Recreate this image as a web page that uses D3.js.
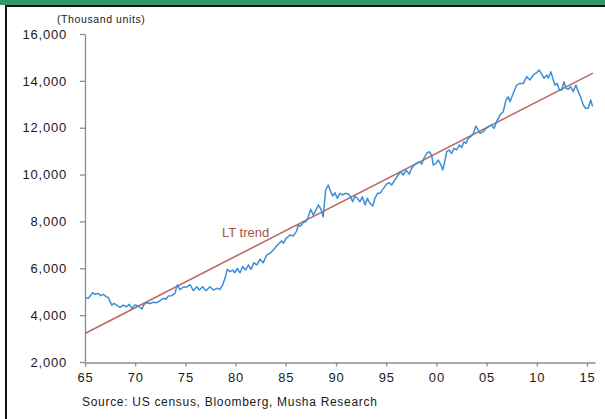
<!DOCTYPE html>
<html>
<head>
<meta charset="utf-8">
<script src="https://cdn.jsdelivr.net/npm/d3@7"></script>
<style>
  html, body { margin: 0; padding: 0; background: #fff; }
  svg { display: block; font-family: Arial, "Liberation Sans", sans-serif; }
</style>
</head>
<body>
<svg id="chart" width="605" height="419"></svg>
<script>
// ---- Data ----
const years = [
  1965.0,1965.33,1965.77,1966.0,1966.32,1966.56,1966.82,1967.09,1967.32,1967.66,1967.89,
  1968.16,1968.49,1968.81,1969.15,1969.41,1969.65,1969.98,1970.31,1970.65,1970.88,
  1971.15,1971.47,1971.8,1972.14,1972.47,1972.8,1973.07,1973.3,1973.64,1973.96,
  1974.19,1974.46,1974.79,1975.13,1975.46,1975.79,1976.13,1976.39,1976.72,1977.05,
  1977.45,1977.78,1978.12,1978.45,1978.71,1978.94,1979.17,1979.44,1979.71,1979.94,
  1980.17,1980.44,1980.71,1981.0,1981.27,1981.53,1981.83,1982.1,1982.43,1982.76,
  1983.1,1983.43,1983.76,1984.09,1984.35,1984.59,1984.75,1985.02,1985.25,1985.42,
  1985.75,1986.09,1986.24,1986.48,1986.74,1987.01,1987.24,1987.48,1987.74,1988.01,
  1988.24,1988.51,1988.73,1988.97,1989.23,1989.47,1989.67,1989.9,1990.13,1990.4,
  1990.67,1990.93,1991.23,1991.46,1991.66,1991.89,1992.12,1992.39,1992.62,1992.89,
  1993.12,1993.39,1993.66,1993.88,1994.15,1994.38,1994.71,1995.05,1995.3,1995.54,
  1995.87,1996.2,1996.44,1996.7,1996.97,1997.3,1997.54,1997.8,1998.04,1998.3,
  1998.54,1998.76,1999.02,1999.29,1999.53,1999.68,1999.96,2000.19,2000.46,2000.63,
  2000.86,2001.03,2001.29,2001.52,2001.75,2002.02,2002.28,2002.52,2002.75,2002.95,
  2003.18,2003.42,2003.68,2003.94,2004.17,2004.34,2004.67,2004.94,2005.17,2005.5,
  2005.74,2006.0,2006.33,2006.66,2006.93,2007.16,2007.33,2007.66,2008.0,2008.33,
  2008.66,2009.0,2009.32,2009.65,2009.99,2010.25,2010.49,2010.72,2010.99,2011.15,
  2011.41,2011.64,2011.81,2012.04,2012.24,2012.48,2012.71,2012.91,2013.14,2013.37,
  2013.63,2013.9,2014.13,2014.36,2014.63,2014.86,2015.13,2015.37,2015.56
];
const units = [
  4745,4720,4960,4890,4930,4830,4890,4790,4745,4430,4500,
  4430,4330,4430,4360,4460,4290,4430,4390,4260,4460,
  4530,4500,4550,4530,4615,4720,4680,4820,4830,4930,
  5290,5090,5200,5200,5300,5045,5210,5070,5210,5045,
  5210,5070,5145,5100,5290,5570,5955,5855,5925,5810,
  6000,5810,6070,5925,6140,5955,6240,6140,6380,6240,
  6570,6640,6780,6950,7065,7170,7065,7280,7350,7420,
  7380,7600,7850,7805,7950,7990,8200,8520,8270,8490,
  8700,8520,8200,9340,9555,9270,9085,9225,8990,9200,
  9130,9200,9170,9055,8840,9085,8990,8840,9055,8700,
  8990,8775,8660,8990,9200,9200,9400,9600,9650,9555,
  9770,9980,10120,9980,10195,10020,10270,10410,10480,10550,
  10450,10690,10900,10975,10835,10410,10480,10620,10410,10195,
  10620,10975,11050,10900,11120,11050,11260,11160,11400,11330,
  11550,11615,11760,12070,11900,11760,11830,11970,12040,12110,
  11970,12260,12540,12680,13180,13320,13110,13470,13820,13890,
  13890,14180,14040,14250,14350,14460,14290,14110,14250,14110,
  14390,14040,13820,13890,13610,13610,13960,13680,13640,13750,
  13540,13820,13540,13320,12970,12830,12830,13180,12900
];
const trendYears = [1965, 2015.6];
const trendValues = [3220, 14330];
const yTicks = [2000, 4000, 6000, 8000, 10000, 12000, 14000, 16000];
const xTicks = [1965, 1970, 1975, 1980, 1985, 1990, 1995, 2000, 2005, 2010, 2015];
const xTickLabels = ["65", "70", "75", "80", "85", "90", "95", "00", "05", "10", "15"];
const unitLabel = "(Thousand units)";
const trendLabel = "LT trend";
const sourceText = "Source: US census, Bloomberg, Musha Research";

// ---- Drawing ----
const svg = d3.select("#chart");

// frame: green banner + black borders
svg.append("rect").attr("x", 0).attr("y", 0).attr("width", 605).attr("height", 5).attr("fill", "#2f9a62");
svg.append("rect").attr("x", 5).attr("y", 5).attr("width", 600).attr("height", 2).attr("fill", "#111");
svg.append("rect").attr("x", 5).attr("y", 5).attr("width", 2).attr("height", 414).attr("fill", "#111");

const x = d3.scaleLinear().domain([1965, 2015.8]).range([85, 595]);
const y = d3.scaleLinear().domain([2000, 16000]).range([362, 34]);

const axisColor = "#8c8c8c";
const textColor = "#1a1a1a";

const yAxis = svg.append("g").attr("transform", "translate(85,0)")
  .call(d3.axisLeft(y).tickValues(yTicks).tickFormat(d3.format(",")).tickSize(5).tickSizeOuter(0).tickPadding(13));
const xAxis = svg.append("g").attr("transform", "translate(0,362.5)")
  .call(d3.axisBottom(x).tickValues(xTicks).tickFormat((d, i) => xTickLabels[i]).tickSize(4).tickSizeOuter(0).tickPadding(6));

[yAxis, xAxis].forEach(g => {
  g.select(".domain").attr("stroke", axisColor).attr("stroke-width", 1.3);
  g.selectAll(".tick line").attr("stroke", axisColor).attr("stroke-width", 1.3);
  g.selectAll(".tick text").attr("fill", textColor)
    .style("font-size", "13px").style("letter-spacing", "0.8px")
    .style("font-family", "Arial, 'Liberation Sans', sans-serif");
});

// trend line
const line = d3.line().x(d => x(d[0])).y(d => y(d[1]));
svg.append("path")
  .datum(trendYears.map((t, i) => [t, trendValues[i]]))
  .attr("d", line).attr("fill", "none").attr("stroke", "#bc6a66").attr("stroke-width", 1.6);

// data line
svg.append("path")
  .datum(years.map((t, i) => [t, units[i]]))
  .attr("d", line).attr("fill", "none").attr("stroke", "#3a8fd8").attr("stroke-width", 1.5)
  .attr("stroke-linejoin", "round");

// labels
svg.append("text").attr("x", 222).attr("y", 236.5).text(trendLabel)
  .attr("fill", "#a5533f").style("font-size", "13px");

svg.append("text").attr("x", 57).attr("y", 23).text(unitLabel)
  .attr("fill", textColor).style("font-size", "10.5px").style("letter-spacing", "0.6px");

svg.append("text").attr("x", 82).attr("y", 406).text(sourceText)
  .attr("fill", textColor).style("font-size", "12px").style("letter-spacing", "0.7px");
</script>
</body>
</html>
